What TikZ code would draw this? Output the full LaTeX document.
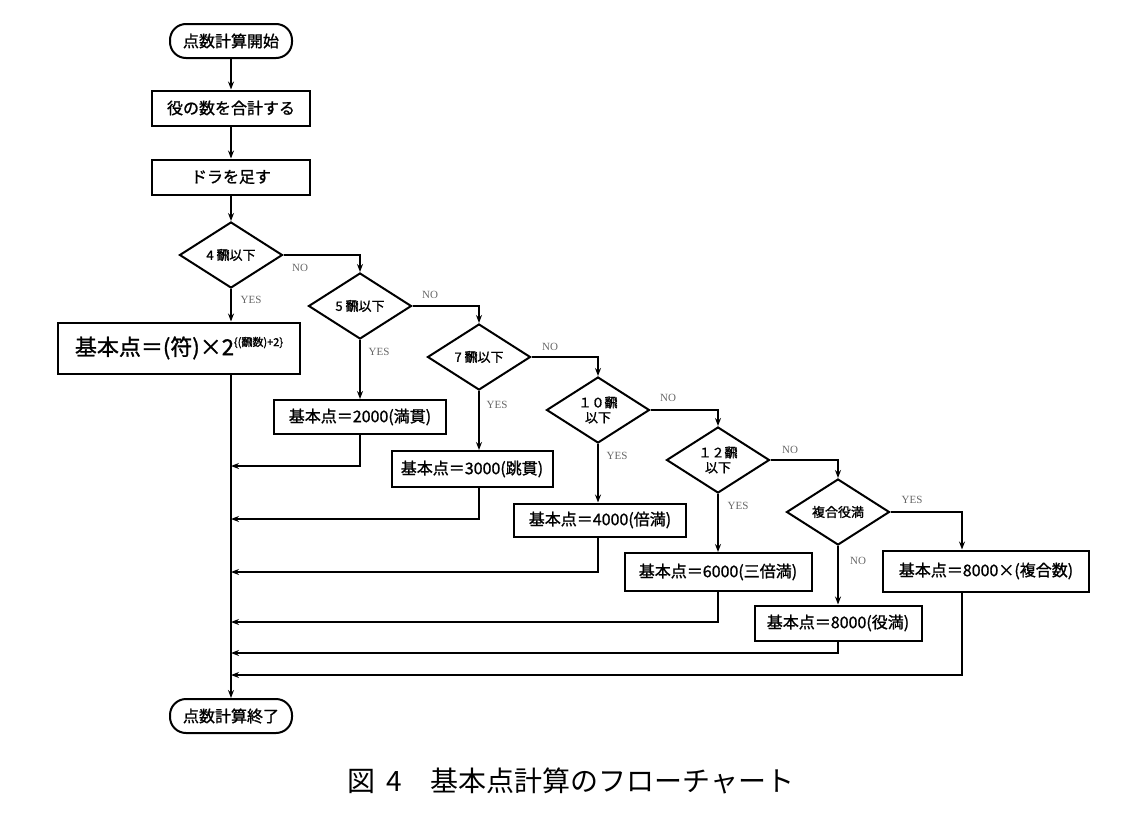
\documentclass[tikz,border=0pt]{standalone}
\usepackage{fontspec}
\setmainfont{Liberation Serif}
\newfontfamily\jp{Noto Sans CJK JP}
\newfontfamily\jpb{Noto Sans CJK JP}[FakeBold=1.2]
\usetikzlibrary{shapes.geometric,arrows.meta}

\tikzstyle{term}=[draw,line width=2pt,rounded corners=16pt,minimum width=122pt,minimum height=34pt,inner sep=2pt,font=\jpb\fontsize{16}{18}\selectfont]
\tikzstyle{proc}=[draw,line width=2pt,minimum height=35pt,inner sep=2pt,font=\jpb\fontsize{16}{18}\selectfont]
\tikzstyle{cond}=[diamond,draw,line width=2pt,minimum width=103pt,minimum height=66pt,inner sep=0pt,align=center,font=\jpb\fontsize{13}{15}\selectfont]
\tikzstyle{flow}=[draw,line width=1.8pt,-{Stealth[length=8pt,width=6pt]}]
\tikzstyle{answer}=[inner sep=1pt,text=black!60,font=\fontsize{11}{12}\selectfont]

\begin{document}
\begin{tikzpicture}[x=1pt,y=-1pt]
			\useasboundingbox (0,0) rectangle (1145,817);
			\node[term] (start) at (231,41) {点数計算開始};
			\node[proc,minimum width=158pt] (sum) at (231,108) {役の数を合計する};
			\node[proc,minimum width=158pt] (dora) at (231,177) {ドラを足す};
			\node[cond] (d4) at (231,255) {4 飜以下};
			\node[proc,minimum width=242pt,minimum height=51pt,font=\jpb\fontsize{22}{24}\selectfont] (base) at (179,348) {基本点＝(符)×2\raisebox{9pt}{\fontsize{11}{12}\selectfont\{(飜数)+2\}}};
			\node[cond] (d5) at (360,306) {5 飜以下};
			\node[proc,minimum width=172pt,minimum height=34pt] (r2000) at (360,417) {基本点＝2000(満貫)};
			\node[cond] (d7) at (479,357) {7 飜以下};
			\node[proc,minimum width=161pt,minimum height=36pt] (r3000) at (472,469) {基本点＝3000(跳貫)};
			\node[cond] (d10) at (598,410) {１０飜\\以下};
			\node[proc,minimum width=172pt,minimum height=33pt] (r4000) at (600,520) {基本点＝4000(倍満)};
			\node[cond] (d12) at (718,460) {１２飜\\以下};
			\node[proc,minimum width=187pt,minimum height=38pt] (r6000) at (718,572) {基本点＝6000(三倍満)};
			\node[cond] (dyk) at (838,512) {複合役満};
			\node[proc,minimum width=167pt,minimum height=35pt] (ryk) at (838,623) {基本点＝8000(役満)};
			\node[proc,minimum width=206pt,minimum height=41pt] (rmul) at (986,571) {基本点＝8000×(複合数)};
			\node[term] (end) at (231,716) {点数計算終了};
			\node[font=\jp\fontsize{28}{30}\selectfont] (caption) at (571,781) {図 \,4　基本点計算のフローチャート};
			% points where the results join the main line
			\foreach \y [count=\i] in {466,519,572,622,653,675}
				\coordinate (m\i) at (231,\y);
			% main line
			\foreach \source/ \dest in {start/sum, sum/dora, dora/d4}
				\path[flow] (\source) -- (\dest);
			\path[flow] (d4.south) -- (d4.south |- base.north);
			\path[flow] (d4 |- base.south) -- (end);
			% NO branches
			\foreach \source/ \dest in {d4/d5, d5/d7, d7/d10, d10/d12, d12/dyk}
				\path[flow] (\source.east) -| (\dest.north);
			\path[flow] (dyk.east) -| ([xshift=-24pt]rmul.north);
			% YES branches
			\path[flow] (d5) -- (r2000);
			\path[flow] (d7.south) -- (d7.south |- r3000.north);
			\path[flow] (d10.south) -- (d10.south |- r4000.north);
			\path[flow] (d12) -- (r6000);
			\path[flow] (dyk) -- (ryk);
			% back to the main line
			\path[flow] (r2000.south) |- (m1);
			\path[flow] (d7.south |- r3000.south) |- (m2);
			\path[flow] (d10.south |- r4000.south) |- (m3);
			\path[flow] (r6000.south) |- (m4);
			\path[flow] (ryk.south) |- (m5);
			\path[flow] ([xshift=-24pt]rmul.south) |- (m6);
			% labels
			\node[answer] (no4) at (300,268) {NO};
			\node[answer] (no5) at (430,295) {NO};
			\node[answer] (no7) at (550,347) {NO};
			\node[answer] (no10) at (668,398) {NO};
			\node[answer] (no12) at (790,450) {NO};
			\node[answer] (noyk) at (858,561) {NO};
			\node[answer] (yes4) at (251,300) {YES};
			\node[answer] (yes5) at (379,352) {YES};
			\node[answer] (yes7) at (497,405) {YES};
			\node[answer] (yes10) at (617,456) {YES};
			\node[answer] (yes12) at (738,506) {YES};
			\node[answer] (yesyk) at (912,500) {YES};
\end{tikzpicture}
\end{document}
